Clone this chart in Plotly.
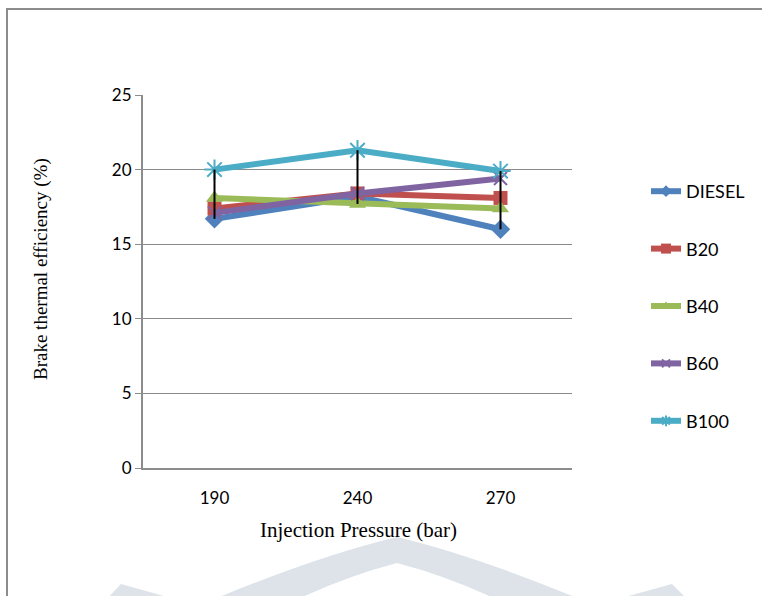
import plotly.graph_objects as go

# Injection pressure categories (bar)
pressures = ["190", "240", "270"]

# Brake thermal efficiency (%) for each fuel blend
diesel = [16.7, 18.2, 16.0]
b20 = [17.4, 18.4, 18.1]
b40 = [18.1, 17.7, 17.4]
b60 = [17.1, 18.4, 19.4]
b100 = [20.0, 21.3, 19.9]

y_ticks = [0, 5, 10, 15, 20, 25]

series = [
    ("DIESEL", diesel, "#4F81BD", "diamond", 15, 9),
    ("B20", b20, "#C0504D", "square", 14, 10),
    ("B40", b40, "#9BBB59", "triangle-up", 15, 9),
    ("B60", b60, "#8064A2", "x-thin-open", 13, 8),
    ("B100", b100, "#4BACC6", "asterisk-open", 17, 9),
]

W, H = 762, 596
L, R, T, B = 143, 190, 95, 128
PW, PH = W - L - R, H - T - B


def px(x):
    return (x - L) / PW


def py(y):
    return (H - B - y) / PH


def marker(symbol, size, color):
    m = dict(symbol=symbol, size=size, color=color)
    if symbol.endswith("-open"):
        m["line"] = dict(color=color, width=2)
    return m


fig = go.Figure()

for name, vals, color, sym, size, leg_size in series:
    fig.add_trace(go.Scatter(
        x=pressures, y=vals, name=name, mode="lines+markers",
        line=dict(color=color, width=6), marker=marker(sym, size, color),
        showlegend=False,
    ))

# High-low lines joining the lowest and highest value at each pressure
all_vals = [s[1] for s in series]
hl_x, hl_y = [], []
for i, p in enumerate(pressures):
    col = [v[i] for v in all_vals]
    hl_x += [p, p, None]
    hl_y += [min(col), max(col), None]
fig.add_trace(go.Scatter(
    x=hl_x, y=hl_y, mode="lines", line=dict(color="black", width=2),
    showlegend=False, hoverinfo="skip",
))

# legend entries with smaller markers
for name, vals, color, sym, size, leg_size in series:
    fig.add_trace(go.Scatter(
        x=[None], y=[None], name=name, mode="lines+markers",
        line=dict(color=color, width=6), marker=marker(sym, leg_size, color),
        legendgroup=name, showlegend=True,
    ))

shapes = []
# faint background emblem at the bottom
wm = "#DDE3E8"


def pt(x, y):
    return f"{px(x):.4f},{py(y):.4f}"


shapes.append(dict(
    type="path", xref="paper", yref="paper", layer="below", line=dict(width=0), fillcolor=wm,
    path=(f"M {pt(212, 600)} Q {pt(318, 556)} {pt(397, 537)} Q {pt(476, 556)} {pt(582, 600)} "
          f"L {pt(498, 600)} Q {pt(447, 576)} {pt(397, 563)} Q {pt(347, 576)} {pt(296, 600)} Z"),
))
shapes.append(dict(
    type="path", xref="paper", yref="paper", layer="below", line=dict(width=0), fillcolor=wm,
    path=f"M {pt(106, 600)} L {pt(121, 584)} L {pt(178, 600)} Z",
))
shapes.append(dict(
    type="path", xref="paper", yref="paper", layer="below", line=dict(width=0), fillcolor=wm,
    path=f"M {pt(614, 600)} L {pt(672, 584)} L {pt(688, 600)} Z",
))
# chart border
shapes.append(dict(
    type="rect", xref="paper", yref="paper",
    x0=px(7), x1=px(800), y0=py(640), y1=py(9),
    line=dict(color="#8C8C8C", width=2), fillcolor="rgba(0,0,0,0)", layer="below",
))

annotations = [
    dict(text="Brake thermal efficiency (%)", textangle=-90, showarrow=False,
         xref="paper", yref="paper", x=px(41), y=py(269), xanchor="center", yanchor="middle",
         font=dict(family="Liberation Serif", size=19, color="black")),
    dict(text="Injection Pressure (bar)", showarrow=False,
         xref="paper", yref="paper", x=px(358), y=py(530), xanchor="center", yanchor="middle",
         font=dict(family="Liberation Serif", size=21, color="black")),
]

fig.update_layout(
    width=W, height=H,
    margin=dict(l=L, r=R, t=T, b=B),
    paper_bgcolor="white", plot_bgcolor="white",
    shapes=shapes,
    annotations=annotations,
    showlegend=True,
    legend=dict(
        x=px(646), y=py(173), xanchor="left", yanchor="top",
        font=dict(family="Lato", size=18, color="black"),
        tracegroupgap=31, bgcolor="rgba(0,0,0,0)",
    ),
    xaxis=dict(
        type="category", range=[-0.5, 2.5], showgrid=False,
        showline=True, linecolor="#8C8C8C", linewidth=2,
        ticks="", ticklabelstandoff=14,
        tickfont=dict(family="Lato", size=17, color="black"),
        fixedrange=True,
    ),
    yaxis=dict(
        range=[0, 25], tickvals=y_ticks, showgrid=True, gridcolor="#8A8A8A", gridwidth=1,
        showline=True, linecolor="#8C8C8C", linewidth=2, zeroline=False,
        ticks="outside", ticklen=6, tickcolor="#8C8C8C", tickwidth=1,
        tickfont=dict(family="Lato", size=17, color="black"),
        fixedrange=True,
    ),
)

fig.write_html("out.html")
